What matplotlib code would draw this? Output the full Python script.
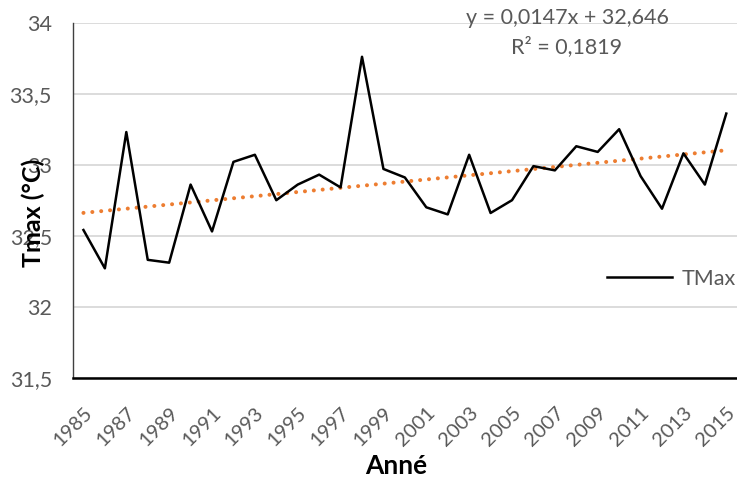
#!/usr/bin/env python3
"""TMax yearly series with linear trend (Excel-style chart)."""

import matplotlib
matplotlib.use("Agg")
import matplotlib.pyplot as plt

years = list(range(1985, 2016))
tmax = [
    32.54, 32.27, 33.23, 32.33, 32.31, 32.86, 32.53, 33.02, 33.07, 32.75,
    32.86, 32.93, 32.84, 33.76, 32.97, 32.91, 32.70, 32.65, 33.07, 32.66,
    32.75, 32.99, 32.96, 33.13, 33.09, 33.25, 32.92, 32.69, 33.08, 32.86,
    33.36,
]
trend_slope = 0.0147
trend_intercept = 32.646
r_squared = 0.1819
y_ticks = [31.5, 32.0, 32.5, 33.0, 33.5, 34.0]
x_ticks = years[::2]

GREY_TEXT = "#595959"
GRID = "#D9D9D9"
ORANGE = "#ED7D31"

plt.rcParams["font.family"] = ["Lato", "DejaVu Sans"]


def comma(value: float) -> str:
    text = f"{value:g}"
    return text.replace(".", ",")


fig = plt.figure(figsize=(7.37, 4.79), dpi=100)
ax = fig.add_axes([0.0987, 0.2115, 0.9013, 0.7411])

# trend line computed from the Excel equation (x = 1..n)
idx = range(1, len(years) + 1)
trend = [trend_slope * i + trend_intercept for i in idx]

ax.plot(years, trend, color=ORANGE, linestyle=(0, (0.01, 2.2)),
        linewidth=2.9, dash_capstyle="round", zorder=2)
ax.plot(years, tmax, color="black", linewidth=1.8, label="TMax", zorder=3)

ax.set_xlim(1984.5, 2015.5)
ax.set_ylim(31.5, 34.0)
ax.set_yticks(y_ticks)
ax.set_yticklabels([comma(v) for v in y_ticks])
ax.set_xticks(x_ticks)
ax.set_xticklabels([str(v) for v in x_ticks], rotation=45, ha="right",
                   va="top", rotation_mode="anchor")

ax.tick_params(axis="both", length=0, colors=GREY_TEXT)
ax.tick_params(axis="y", pad=15, labelsize=15.5)
ax.tick_params(axis="x", pad=19, labelsize=14.5)

ax.grid(True, axis="y", color=GRID, linewidth=1.3)
ax.set_axisbelow(True)
for side in ("top", "right"):
    ax.spines[side].set_visible(False)
ax.spines["left"].set_color("#404040")
ax.spines["left"].set_linewidth(1.0)
ax.spines["bottom"].set_color("black")
ax.spines["bottom"].set_linewidth(1.8)

fig.text(33 / 737, 1 - 213 / 479, "Tmax (°C)", rotation=90, ha="center",
         va="center", fontsize=18, fontweight="bold", color="black")
fig.text(396 / 737, 1 - 466 / 479, "Anné", ha="center", va="center",
         fontsize=19, fontweight="bold", color="black")

fig.text(567 / 737, 1 - 18 / 479,
         f"y = {comma(trend_slope)}x + {comma(trend_intercept)}",
         ha="center", va="center", fontsize=15.5, color=GREY_TEXT)
fig.text(567 / 737, 1 - 47 / 479, f"R² = {comma(r_squared)}",
         ha="center", va="center", fontsize=15.5, color=GREY_TEXT)

ax.legend(loc="center left", bbox_to_anchor=(607 / 737, 1 - 279 / 479),
          bbox_transform=fig.transFigure, frameon=False, fontsize=15.5,
          labelcolor=GREY_TEXT, handlelength=3.0, handletextpad=0.45,
          borderaxespad=0, borderpad=0)

fig.savefig("out.png", dpi=100)
